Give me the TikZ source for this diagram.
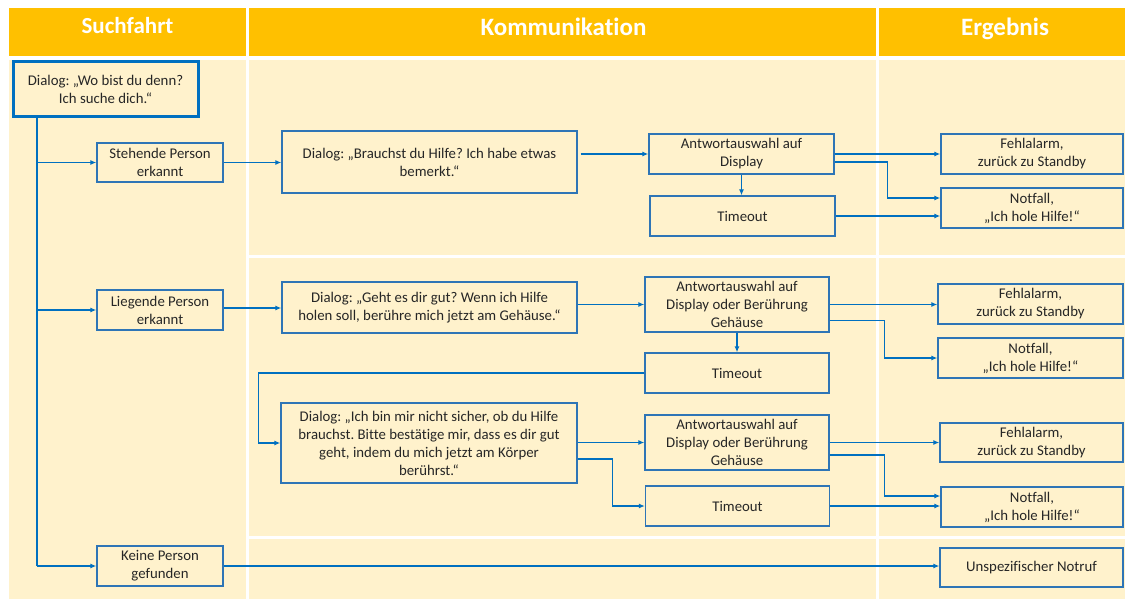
\documentclass[tikz,border=0pt]{standalone}
\usepackage{fontspec}
\setmainfont[Ligatures=NoCommon]{Carlito}
\usetikzlibrary{arrows.meta,calc}
\definecolor{hdr}{HTML}{FFC000}
\definecolor{bg}{HTML}{FFF2CC}
\definecolor{ln}{HTML}{0070C0}
\definecolor{bd}{HTML}{2E75B6}
\definecolor{tx}{HTML}{262626}
\frenchspacing
\begin{document}
\begin{tikzpicture}[x=1pt,y=-1pt,
  box/.style={draw=bd, line width=1.3pt, fill=bg, align=center, inner sep=1pt,
    font=\fontsize{14.8}{18}\selectfont, text=tx},
  arr/.style={draw=ln, line width=1.3pt, -{Latex[length=6pt,width=5pt]}},
  hd/.style={font=\fontsize{25}{29}\selectfont\bfseries, text=white, anchor=base}]
\useasboundingbox (0,0) rectangle (1125,599);
\fill[white] (0,0) rectangle (1125,599);
\fill[hdr] (9,8) rectangle (1125,56);
\fill[bg] (9,60) rectangle (1125,599);
\draw[white, line width=3pt] (247.5,8) -- (247.5,599) (877.5,8) -- (877.5,599)
  (247,256) -- (1125,256) (247,537) -- (1125,537);
% headers
\node[hd, font=\fontsize{23}{27}\selectfont\bfseries] (h1) at (127.5,33.5) {Suchfahrt};
\node[hd] (h2) at (563.5,36) {Kommunikation};
\node[hd] (h3) at (1005,35.5) {Ergebnis};
% column 1
\node[box, draw=ln, line width=3pt, minimum width=185pt, minimum height=55pt] (d0) at (105.5,89.5) {Dialog: „Wo bist du denn?\\Ich suche dich.“};
\node[box, minimum width=126pt, minimum height=39pt] (s1) at (160,162.5) {Stehende Person\\erkannt};
\node[box, minimum width=126pt, minimum height=40pt] (l1) at (160,310) {Liegende Person\\erkannt};
\node[box, minimum width=126pt, minimum height=40pt] (k1) at (160,566) {Keine Person\\gefunden};
% section 1
\node[box, minimum width=295pt, minimum height=62pt] (b1) at (429.5,162) {Dialog: „Brauchst du Hilfe? Ich habe etwas\\bemerkt.“};
\node[box, minimum width=185pt, minimum height=40pt] (a1) at (741.5,154) {Antwortauswahl auf\\Display};
\node[box, minimum width=185pt, minimum height=40pt] (t1) at (742.5,216) {Timeout};
\node[box, minimum width=182pt, minimum height=40pt] (f1) at (1032,154) {Fehlalarm,\\zurück zu Standby};
\node[box, minimum width=182pt, minimum height=40pt] (n1) at (1032,208) {Notfall,\\„Ich hole Hilfe!“};
% section 2
\node[box, minimum width=295pt, minimum height=51pt] (g1) at (429.5,307.5) {Dialog: „Geht es dir gut? Wenn ich Hilfe\\holen soll, berühre mich jetzt am Gehäuse.“};
\node[box, minimum width=184pt, minimum height=55pt] (a2) at (737,304.5) {Antwortauswahl auf\\Display oder Berührung\\Gehäuse};
\node[box, minimum width=184pt, minimum height=40pt] (t2) at (737,373) {Timeout};
\node[box, minimum width=185pt, minimum height=40pt] (f2) at (1030.5,304) {Fehlalarm,\\zurück zu Standby};
\node[box, minimum width=185pt, minimum height=40pt] (n2) at (1030.5,358) {Notfall,\\„Ich hole Hilfe!“};
\node[box, minimum width=296pt, minimum height=80pt] (i1) at (429,443) {Dialog: „Ich bin mir nicht sicher, ob du Hilfe\\brauchst. Bitte bestätige mir, dass es dir gut\\geht, indem du mich jetzt am Körper\\berührst.“};
\node[box, minimum width=184pt, minimum height=55pt] (a3) at (737,442.5) {Antwortauswahl auf\\Display oder Berührung\\Gehäuse};
\node[box, minimum width=184pt, minimum height=40pt] (t3) at (737.5,506) {Timeout};
\node[box, minimum width=183pt, minimum height=39pt] (f3) at (1031.5,442.5) {Fehlalarm,\\zurück zu Standby};
\node[box, minimum width=182pt, minimum height=40pt] (n3) at (1032,507) {Notfall,\\„Ich hole Hilfe!“};
% section 3
\node[box, minimum width=183pt, minimum height=39pt] (u1) at (1031.5,567.5) {Unspezifischer Notruf};
% trunk
\coordinate (tr) at (37,118);
\draw[ln, line width=2.2pt] (tr) -- (tr |- k1.west);
\draw[arr] (tr |- s1.west) -- (s1.west);
\draw[arr] (tr |- l1.west) -- (l1.west);
\draw[arr] (tr |- k1.west) -- (k1.west);
% section 1 connectors
\draw[arr] (s1.east) -- (s1.east -| b1.west);
\draw[arr] ([xshift=3pt]b1.east |- a1.west) -- (a1.west);
\draw[arr] (a1.south) -- (a1.south |- t1.north);
\draw[arr] (a1.east) -- (a1.east -| f1.west);
\draw[arr] ([yshift=-8pt]a1.east) -- ++(53,0) |- ([yshift=10pt]n1.west);
\draw[arr] (t1.east) -- (t1.east -| n1.west);
% section 2 connectors
\draw[arr] ([yshift=2pt]l1.east) -- ([yshift=2pt]l1.east -| g1.west);
\draw[arr] (g1.east |- a2.west) -- (a2.west);
\draw[arr] (a2.south) -- (a2.south |- t2.north);
\draw[arr] (a2.east) -- (a2.east -| f2.west);
\draw[arr] ([yshift=-16pt]a2.east) -- ++(55,0) |- (n2.west);
\draw[arr] (t2.west) -- ++(-386,0) |- (i1.west);
\draw[arr] (i1.east |- a3.west) -- (a3.west);
\draw[arr] ([yshift=-16pt]i1.east) -- ++(35,0) |- (t3.west);
\draw[arr] (a3.east) -- (a3.east -| f3.west);
\draw[arr] ([yshift=-12.5pt]a3.east) -- ++(55,0) |- ([yshift=11pt]n3.west);
\draw[arr] (t3.east) -- (t3.east -| n3.west);
% section 3 connector
\draw[arr] (k1.east) -- (k1.east -| u1.west);
\end{tikzpicture}
\end{document}
